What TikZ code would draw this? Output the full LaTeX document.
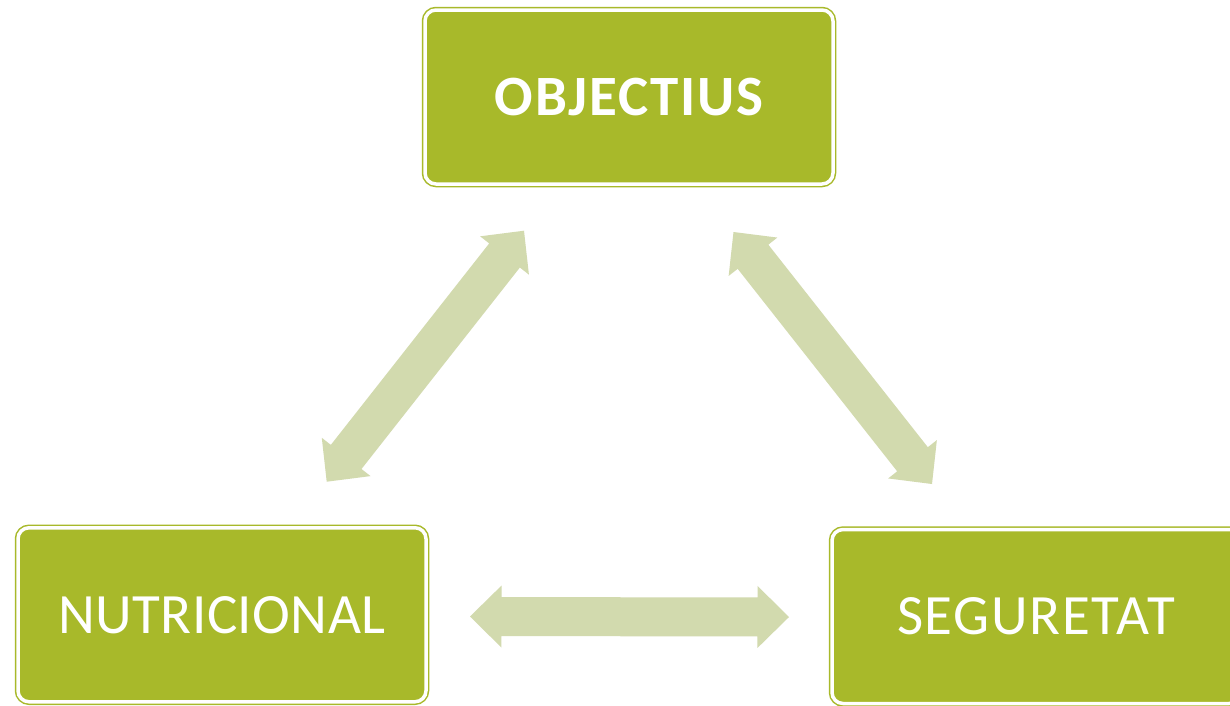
\documentclass[tikz,border=0pt]{standalone}
\usepackage{fontspec}
\setmainfont{Carlito}
\newfontfamily\widefont[LetterSpace=3.0]{Carlito}
\newfontfamily\midfont[LetterSpace=0.8]{Carlito}
\usetikzlibrary{calc}
\definecolor{boxgreen}{HTML}{A8B92A}
\definecolor{arrowsage}{HTML}{D2DAAE}
\tikzset{
  box/.style={rectangle, rounded corners=11pt, fill=boxgreen, draw=boxgreen,
    line width=1.5pt, double=white, double distance=3.5pt,
    minimum width=408pt, minimum height=174pt, inner sep=0pt, outer sep=0pt,
    text=white},
  arrowfill/.style={fill=arrowsage}
}
\newcommand\dblarrow[2]{%
  \fill[arrowfill] (#1)
    -- ($(#1)!31.5pt!(#2)!31pt!90:(#2)$)
    -- ($(#1)!31.5pt!(#2)!19.5pt!90:(#2)$)
    -- ($(#2)!31.5pt!(#1)!19.5pt!-90:(#1)$)
    -- ($(#2)!31.5pt!(#1)!31pt!-90:(#1)$)
    -- (#2)
    -- ($(#2)!31.5pt!(#1)!31pt!90:(#1)$)
    -- ($(#2)!31.5pt!(#1)!19.5pt!90:(#1)$)
    -- ($(#1)!31.5pt!(#2)!19.5pt!-90:(#2)$)
    -- ($(#1)!31.5pt!(#2)!31pt!-90:(#2)$)
    -- cycle;}
\begin{document}
\begin{tikzpicture}[x=1pt,y=-1pt]
  \useasboundingbox (0,0) rectangle (1230,705);
  \clip (0,0) rectangle (1230,705);
  \fill[white] (0,0) rectangle (1230,705);
  % boxes
  \node[box, font=\widefont\fontsize{57}{60}\selectfont\bfseries] (obj) at (629,97) {OBJECTIUS};
  \node[box, font=\midfont\fontsize{57}{60}\selectfont] (nut) at (222,614.75) {NUTRICIONAL};
  \node[box, font=\widefont\fontsize{57}{60}\selectfont] (seg) at (1036,616.5) {SEGURETAT};
  % arrow tips
  \coordinate (l1) at (326.7,481.7);
  \coordinate (l2) at (524,230.7);
  \coordinate (r1) at (733.5,232);
  \coordinate (r2) at (932,484);
  \coordinate (h1) at (470,616.5);
  \coordinate (h2) at (789,617);
  \dblarrow{l1}{l2}
  \dblarrow{r1}{r2}
  \dblarrow{h1}{h2}
\end{tikzpicture}
\end{document}
